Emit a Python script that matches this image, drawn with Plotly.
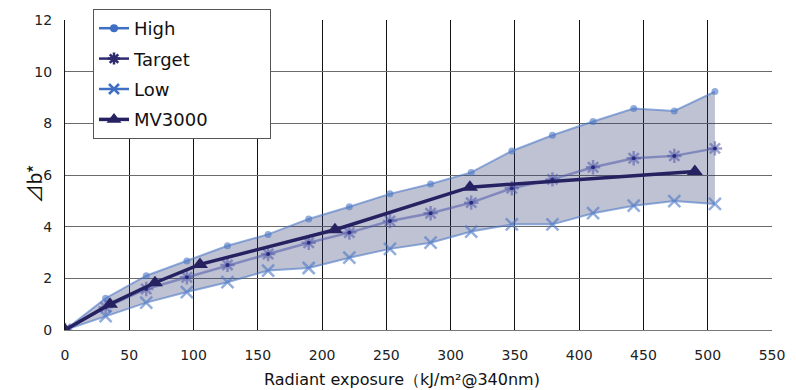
import plotly.graph_objects as go

# ---- data ----
exposure = [0, 31.6, 63.2, 94.8, 126.4, 158, 189.6, 221.2, 252.8, 284.4,
            316, 347.6, 379.2, 410.8, 442.4, 474, 505.6]
high = [0, 1.23, 2.10, 2.67, 3.26, 3.70, 4.30, 4.77, 5.27, 5.65,
        6.10, 6.93, 7.54, 8.07, 8.57, 8.48, 9.23]
target = [0, 0.88, 1.59, 2.04, 2.52, 2.94, 3.38, 3.77, 4.22, 4.52,
          4.93, 5.49, 5.83, 6.30, 6.65, 6.74, 7.03]
low = [0, 0.54, 1.06, 1.47, 1.85, 2.30, 2.40, 2.80, 3.14, 3.38,
       3.81, 4.09, 4.09, 4.52, 4.81, 4.99, 4.88]
mv_exposure = [0, 35, 70, 105, 210, 315, 490]
mv3000 = [0, 1.00, 1.83, 2.54, 3.88, 5.53, 6.14]

x_ticks = [0, 50, 100, 150, 200, 250, 300, 350, 400, 450, 500, 550]
y_ticks = [0, 2, 4, 6, 8, 10, 12]

FONT = "DejaVu Sans"
BLUE = "#3f6fc4"
NAVY = "#262262"
HIGH_PLOT = "rgba(75,118,196,0.6)"
TARGET_PLOT = "rgba(80,90,170,0.55)"
FILL = "rgba(40,52,110,0.30)"

fig = go.Figure()

# shaded band between High and Low
fig.add_trace(go.Scatter(x=exposure, y=high, mode="lines", line=dict(width=0),
                         showlegend=False, hoverinfo="skip"))
fig.add_trace(go.Scatter(x=exposure, y=low, mode="lines", line=dict(width=0),
                         fill="tonexty", fillcolor=FILL, showlegend=False,
                         hoverinfo="skip"))

# plotted series (lighter, semi-transparent as in the reference)
fig.add_trace(go.Scatter(x=exposure, y=high, mode="lines+markers",
                         line=dict(color=HIGH_PLOT, width=2),
                         marker=dict(symbol="circle", size=7, color=HIGH_PLOT),
                         showlegend=False))
fig.add_trace(go.Scatter(x=exposure, y=target, mode="lines+markers",
                         line=dict(color=TARGET_PLOT, width=2.5),
                         marker=dict(symbol="asterisk-open", size=12,
                                     line=dict(color="rgba(90,105,190,0.6)", width=2.5)),
                         showlegend=False))
fig.add_trace(go.Scatter(x=exposure, y=target, mode="markers",
                         marker=dict(symbol="circle", size=4, color="#2a2a80"),
                         showlegend=False, hoverinfo="skip"))
fig.add_trace(go.Scatter(x=exposure, y=low, mode="lines+markers",
                         line=dict(color=HIGH_PLOT, width=2),
                         marker=dict(symbol="x-thin-open", size=12,
                                     line=dict(color=HIGH_PLOT, width=2.5)),
                         showlegend=False))
fig.add_trace(go.Scatter(x=mv_exposure, y=mv3000, mode="lines+markers",
                         line=dict(color=NAVY, width=3.5),
                         marker=dict(symbol="triangle-up", size=14, color=NAVY),
                         showlegend=False))

# legend entries (full colour, as in the reference legend)
pad = "\u00a0" * 10
legend_items = [
    ("High", dict(color=BLUE, width=2.5), dict(symbol="circle", size=8, color=BLUE)),
    ("Target", dict(color="#2e2a6e", width=2.5),
     dict(symbol="asterisk-open", size=10, line=dict(color="#2e2a6e", width=2.5))),
    ("Low", dict(color=BLUE, width=2.5),
     dict(symbol="x-thin-open", size=10, line=dict(color=BLUE, width=2.5))),
    ("MV3000" + pad, dict(color=NAVY, width=3.5),
     dict(symbol="triangle-up", size=13, color=NAVY)),
]
for i, (name, ln, mk) in enumerate(legend_items):
    fig.add_trace(go.Scatter(x=[None], y=[None], mode="lines+markers", name=name,
                             line=ln, marker=mk, legendgroup=f"g{i}"))

# The page has an 8px body margin, so the figure is sized 8px smaller.
W, H = 788, 382
fig.update_layout(
    width=W, height=H,
    margin=dict(l=57, r=24, t=12, b=60, autoexpand=False),
    paper_bgcolor="white", plot_bgcolor="white",
    font=dict(family=FONT, size=14, color="#222"),
    showlegend=True,
    legend=dict(xref="container", yref="container",
                x=(93 - 8) / W, y=1 - (9 - 8) / H, xanchor="left", yanchor="top",
                bgcolor="white", bordercolor="#555", borderwidth=1,
                font=dict(family=FONT, size=18, color="#111"),
                traceorder="grouped", tracegroupgap=4),
    xaxis=dict(range=[0, 550], tickvals=x_ticks, ticktext=[str(v) for v in x_ticks],
               showgrid=True, gridcolor="#111", gridwidth=1,
               showline=True, linecolor="#777", linewidth=1, mirror=False,
               zeroline=False, ticks="", ticklabelstandoff=12, automargin=False,
               tickfont=dict(family=FONT, size=14, color="#222")),
    yaxis=dict(range=[0, 12], tickvals=y_ticks, ticktext=[str(v) for v in y_ticks],
               showgrid=True, gridcolor="#6a6a6a", gridwidth=1,
               showline=True, linecolor="#111", linewidth=1,
               zeroline=False, ticks="", ticklabelstandoff=9, automargin=False,
               tickfont=dict(family=FONT, size=14, color="#222")),
    annotations=[
        dict(text="Radiant exposure（kJ/m²@340nm)", xref="paper", yref="paper",
             x=0.477, y=-0.161, xanchor="center", yanchor="middle", showarrow=False,
             font=dict(family=FONT, size=16, color="#111")),
        dict(text="⊿b*", xref="paper", yref="paper", x=-0.045, y=0.47,
             xanchor="center", yanchor="middle", textangle=-90, showarrow=False,
             font=dict(family="Noto Sans CJK JP", size=19, color="#111")),
    ],
)

fig.write_html("out.html")
